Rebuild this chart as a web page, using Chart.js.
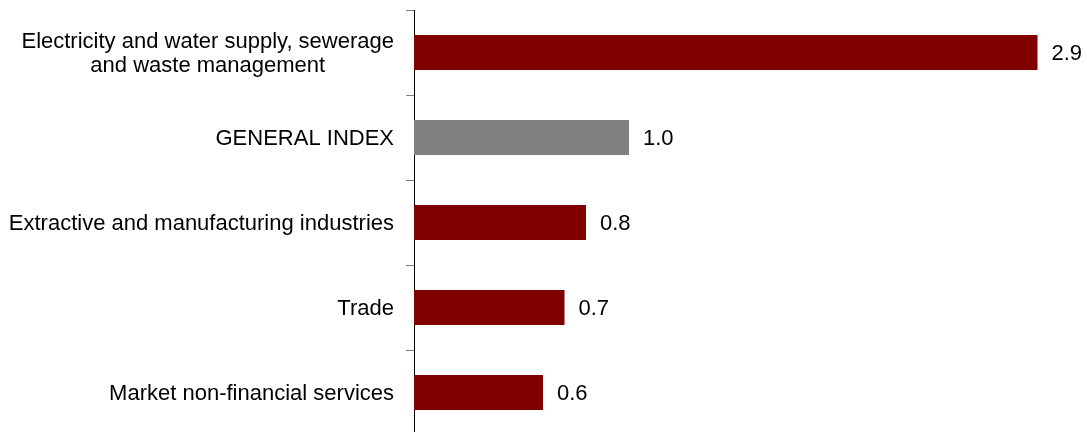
<!DOCTYPE html>
<html>
<head>
<meta charset="utf-8">
<script src="https://cdn.jsdelivr.net/npm/chart.js@4.4.0/dist/chart.umd.min.js"></script>
<style>
  html, body { margin: 0; padding: 0; background: #fff; overflow: hidden; }
  #wrap { width: 1087px; height: 437px; position: relative; }
</style>
</head>
<body>
<div id="wrap"><canvas id="chart1"></canvas></div>
<script>
// categories top to bottom
const categories = [
    ['Electricity and water supply, sewerage', 'and waste management'],
    'GENERAL INDEX',
    'Extractive and manufacturing industries',
    'Trade',
    'Market non-financial services'
];
const values = [2.9, 1.0, 0.8, 0.7, 0.6];
const valueLabels = ['2.9', '1.0', '0.8', '0.7', '0.6'];
const barColors = ['#800000', '#808080', '#800000', '#800000', '#800000'];

const FONT = 'Arial, "Liberation Sans", sans-serif';
const FONT_SIZE = 22;

// draws category names (two-line one centred on itself) and bar value labels
const labelPlugin = {
    id: 'labelPlugin',
    afterDatasetsDraw(chart) {
        const ctx = chart.ctx;
        const yScale = chart.scales.y;
        const meta = chart.getDatasetMeta(0);
        ctx.save();
        ctx.font = FONT_SIZE + 'px ' + FONT;
        ctx.fillStyle = '#000';
        ctx.textBaseline = 'middle';

        const rightEdge = yScale.right - 20;
        const lineH = 24.5;
        categories.forEach(function(cat, i) {
            const y = yScale.getPixelForValue(i) + 1.5;
            const lines = Array.isArray(cat) ? cat : [cat];
            const widths = lines.map(l => ctx.measureText(l).width);
            const maxW = Math.max.apply(null, widths);
            ctx.textAlign = 'center';
            lines.forEach(function(l, k) {
                const ly = y + (k - (lines.length - 1) / 2) * lineH;
                ctx.fillText(l, rightEdge - maxW / 2, ly);
            });
        });

        ctx.textAlign = 'left';
        meta.data.forEach(function(bar, i) {
            ctx.fillText(valueLabels[i], bar.x + 14, bar.y + 1.5);
        });
        ctx.restore();
    }
};

document.addEventListener("DOMContentLoaded", function() {
    const ctx1 = document.getElementById('chart1').getContext('2d');
    new Chart(ctx1, {
        type: 'bar',
        data: {
            labels: categories,
            datasets: [{
                data: values,
                backgroundColor: barColors,
                borderWidth: 0,
                barPercentage: 0.41,
                categoryPercentage: 1.0
            }]
        },
        plugins: [labelPlugin],
        options: {
            indexAxis: 'y',
            responsive: true,
            maintainAspectRatio: false,
            animation: false,
            layout: { padding: { top: 10, right: 28, left: 0, bottom: 2 } },
            plugins: {
                legend: { display: false },
                tooltip: { enabled: false }
            },
            scales: {
                x: {
                    display: false,
                    min: 0,
                    max: 3.0
                },
                y: {
                    afterFit: function(scale) { scale.width = 414; },
                    ticks: { display: false },
                    grid: {
                        offset: true,
                        drawOnChartArea: false,
                        drawTicks: true,
                        tickLength: 8,
                        color: '#808080'
                    },
                    border: { display: true, color: '#000', width: 1 }
                }
            }
        }
    });
});
</script>
</body>
</html>
